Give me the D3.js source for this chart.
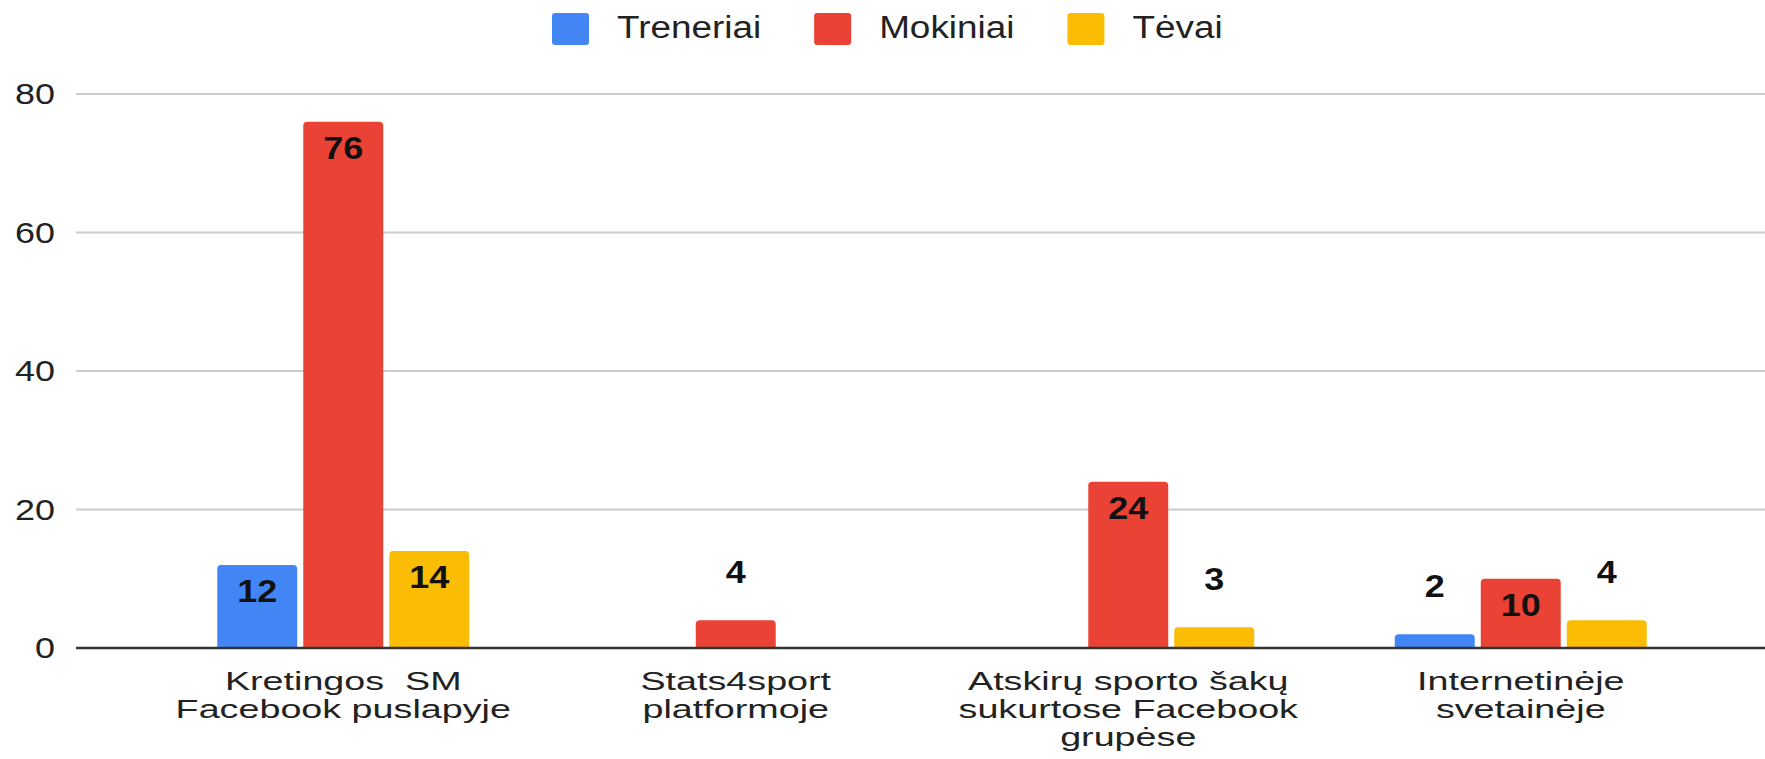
<!DOCTYPE html>
<html>
<head>
<meta charset="utf-8">
<script src="https://cdn.jsdelivr.net/npm/d3@7"></script>
<style>
  html, body { margin: 0; padding: 0; background: #fff; }
  svg { display: block; font-family: "Liberation Sans", Arial, sans-serif; }
</style>
</head>
<body>
<div id="chart"></div>
<script>
const categories = [
  ["Kretingos\u00a0\u00a0SM", "Facebook puslapyje"],
  ["Stats4sport", "platformoje"],
  ["Atskirų sporto šakų", "sukurtose Facebook", "grupėse"],
  ["Internetinėje", "svetainėje"]
];
const seriesNames = ["Treneriai", "Mokiniai", "Tėvai"];
const treneriai = [12, 0, 0, 2];
const mokiniai = [76, 4, 24, 10];
const tevai = [14, 0, 3, 4];
const yTicks = [0, 20, 40, 60, 80];

const COLORS = ["#4285f4", "#ea4335", "#fbbc04"];
const WIDTH = 1765, HEIGHT = 759;

const series = [treneriai, mokiniai, tevai];
const rows = categories.map((c, i) => ({
  key: i,
  lines: c,
  values: seriesNames.map((s, j) => ({ name: s, idx: j, value: series[j][i] }))
}));

const svg = d3.select('#chart').append('svg')
  .attr('width', WIDTH)
  .attr('height', HEIGHT);

const y = d3.scaleLinear().domain([0, 80]).range([648, 94]);

const x0 = d3.scaleBand()
  .domain(rows.map(d => d.key))
  .range([147, 1717])
  .paddingInner(0.358)
  .paddingOuter(0.179);

const x1 = d3.scaleBand()
  .domain(seriesNames)
  .range([0, x0.bandwidth()])
  .paddingInner(0.07);

// gridlines
svg.append('g')
  .selectAll('line')
  .data(yTicks.filter(t => t !== 0))
  .enter().append('line')
  .attr('x1', 76).attr('x2', WIDTH)
  .attr('y1', d => y(d)).attr('y2', d => y(d))
  .attr('stroke', '#cccccc')
  .attr('stroke-width', 2);

// y labels (slightly stretched like the source)
svg.append('g')
  .selectAll('text')
  .data(yTicks)
  .enter().append('text')
  .attr('transform', d => 'translate(55,' + (y(d) + 10) + ') scale(1.24,1)')
  .attr('text-anchor', 'end')
  .attr('font-size', 29)
  .attr('fill', '#222')
  .text(d => d);

// top-rounded bar path
function barPath(x, top, w, bottom, r) {
  const p = d3.path();
  r = Math.min(r, (bottom - top));
  p.moveTo(x, bottom);
  p.lineTo(x, top + r);
  p.quadraticCurveTo(x, top, x + r, top);
  p.lineTo(x + w - r, top);
  p.quadraticCurveTo(x + w, top, x + w, top + r);
  p.lineTo(x + w, bottom);
  p.closePath();
  return p.toString();
}

const groups = svg.append('g')
  .selectAll('g')
  .data(rows)
  .enter().append('g')
  .attr('transform', d => 'translate(' + x0(d.key) + ',0)');

const bars = groups.selectAll('g.bar')
  .data(d => d.values.filter(v => v.value > 0))
  .enter().append('g')
  .attr('class', 'bar');

bars.append('path')
  .attr('d', d => barPath(x1(d.name), y(d.value), x1.bandwidth(), y(0), 4))
  .attr('fill', d => COLORS[d.idx]);

bars.append('text')
  .attr('transform', d => {
    const h = y(0) - y(d.value);
    const ty = h > 45 ? y(d.value) + 37 : y(d.value) - 37;
    return 'translate(' + (x1(d.name) + x1.bandwidth() / 2) + ',' + ty + ') scale(1.16,1)';
  })
  .attr('text-anchor', 'middle')
  .attr('font-size', 31)
  .attr('font-weight', 'bold')
  .attr('fill', '#111')
  .text(d => d.value);

// baseline
svg.append('line')
  .attr('x1', 76).attr('x2', WIDTH)
  .attr('y1', y(0)).attr('y2', y(0))
  .attr('stroke', '#333')
  .attr('stroke-width', 2.5);

// category labels
const catLabels = svg.append('g')
  .selectAll('g')
  .data(rows)
  .enter().append('g');

catLabels.selectAll('text')
  .data(d => d.lines.map((l, i) => ({ l, i, cx: x0(d.key) + x0.bandwidth() / 2 })))
  .enter().append('text')
  .attr('transform', d => 'translate(' + d.cx + ',' + (690 + d.i * 28) + ') scale(1.45,1)')
  .attr('text-anchor', 'middle')
  .attr('font-size', 26)
  .attr('fill', '#222')
  .text(d => d.l);

// legend
const legend = svg.append('g');
let lx = 552;
seriesNames.forEach((s, i) => {
  legend.append('rect')
    .attr('x', lx).attr('y', 13)
    .attr('width', 37).attr('height', 32)
    .attr('rx', 3)
    .attr('fill', COLORS[i]);
  const t = legend.append('text')
    .attr('transform', 'translate(' + (lx + 65) + ',38) scale(1.19,1)')
    .attr('font-size', 31)
    .attr('fill', '#222')
    .text(s);
  lx += 65 + t.node().getComputedTextLength() * 1.19 + 53;
});
</script>
</body>
</html>
